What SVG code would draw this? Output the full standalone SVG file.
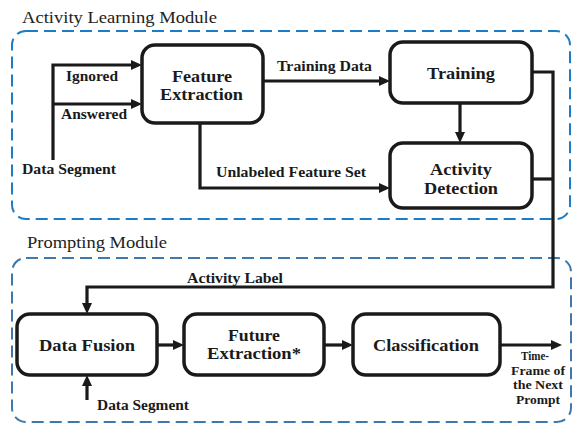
<svg xmlns="http://www.w3.org/2000/svg" width="574" height="424" viewBox="0 0 574 424">
<style>
.title{font-family:"Liberation Serif",serif;font-size:17px;fill:#222}
.node rect{fill:#fff;stroke:#1a1a1a;stroke-width:3.5}
.nl{font-family:"Liberation Serif",serif;font-weight:bold;font-size:17px;fill:#1a1a1a;text-anchor:middle}
.cl{font-family:"Liberation Serif",serif;font-weight:bold;font-size:14.5px;fill:#1a1a1a}
.tf{font-family:"Liberation Serif",serif;font-weight:bold;font-size:11.5px;fill:#1a1a1a;text-anchor:middle}
.conn path{fill:none;stroke:#1a1a1a;stroke-width:3.2}
.mod1{fill:none;stroke:#1d7cc6;stroke-width:2;stroke-dasharray:12 6}
.mod2{fill:none;stroke:#3f78ad;stroke-width:2;stroke-dasharray:12 6}
</style>
<defs>
<marker id="ah" markerUnits="userSpaceOnUse" markerWidth="12" markerHeight="10" refX="7" refY="5" orient="auto">
<path d="M0,0 L11,5 L0,10 z" fill="#1a1a1a"/>
</marker>
</defs>
<rect width="574" height="424" fill="#fff"/>
<g id="module-learning">
<rect class="mod1" x="12" y="31" width="558" height="188" rx="14"/>
<text class="title" x="22" y="23" textLength="195" lengthAdjust="spacingAndGlyphs">Activity Learning Module</text>
</g>
<g id="module-prompting">
<rect class="mod2" x="12" y="258" width="559" height="164" rx="14"/>
<text class="title" x="27" y="248" textLength="140" lengthAdjust="spacingAndGlyphs">Prompting Module</text>
</g>
<g class="conn" id="connectors">
<path d="M53,160 V65 H138" marker-end="url(#ah)"/>
<path d="M53,104 H138" marker-end="url(#ah)"/>
<path d="M263,81 H386" marker-end="url(#ah)"/>
<path d="M200,123 V188 H386" marker-end="url(#ah)"/>
<path d="M460,103 V139" marker-end="url(#ah)"/>
<path d="M532,72 H553 V287 H87 V310" marker-end="url(#ah)"/>
<path d="M532,179 H553"/>
<path d="M157,345 H180" marker-end="url(#ah)"/>
<path d="M324,345 H349" marker-end="url(#ah)"/>
<path d="M500,345 H558" marker-end="url(#ah)"/>
<path d="M87,400 V379" marker-end="url(#ah)"/>
<text class="cl" x="66" y="81" textLength="52" lengthAdjust="spacingAndGlyphs">Ignored</text>
<text class="cl" x="61" y="119" textLength="66" lengthAdjust="spacingAndGlyphs">Answered</text>
<text class="cl" x="22" y="174" textLength="94" lengthAdjust="spacingAndGlyphs">Data Segment</text>
<text class="cl" x="277" y="71" textLength="95" lengthAdjust="spacingAndGlyphs">Training Data</text>
<text class="cl" x="216" y="177" textLength="150" lengthAdjust="spacingAndGlyphs">Unlabeled Feature Set</text>
<text class="cl" x="187" y="283" textLength="96" lengthAdjust="spacingAndGlyphs">Activity Label</text>
<text class="cl" x="97" y="410" textLength="92" lengthAdjust="spacingAndGlyphs">Data Segment</text>
<text class="tf" x="535" y="360" textLength="28" lengthAdjust="spacingAndGlyphs">Time-</text>
<text class="tf" x="538" y="375" textLength="54" lengthAdjust="spacingAndGlyphs">Frame of</text>
<text class="tf" x="538" y="389" textLength="50" lengthAdjust="spacingAndGlyphs">the Next</text>
<text class="tf" x="538" y="404" textLength="44" lengthAdjust="spacingAndGlyphs">Prompt</text>
</g>
<g class="node" id="feature-extraction">
<rect x="142" y="45" width="121" height="78" rx="13"/>
<text class="nl" x="202" y="82" textLength="60" lengthAdjust="spacingAndGlyphs">Feature</text>
<text class="nl" x="201.5" y="100" textLength="83" lengthAdjust="spacingAndGlyphs">Extraction</text>
</g>
<g class="node" id="training">
<rect x="390" y="42" width="142" height="61" rx="13"/>
<text class="nl" x="461" y="79" textLength="68" lengthAdjust="spacingAndGlyphs">Training</text>
</g>
<g class="node" id="activity-detection">
<rect x="390" y="143" width="142" height="65" rx="13"/>
<text class="nl" x="461" y="175" textLength="62" lengthAdjust="spacingAndGlyphs">Activity</text>
<text class="nl" x="461" y="194" textLength="74" lengthAdjust="spacingAndGlyphs">Detection</text>
</g>
<g class="node" id="data-fusion">
<rect x="17" y="314" width="140" height="61" rx="13"/>
<text class="nl" x="87" y="351" textLength="96" lengthAdjust="spacingAndGlyphs">Data Fusion</text>
</g>
<g class="node" id="future-extraction">
<rect x="184" y="314" width="140" height="61" rx="13"/>
<text class="nl" x="254" y="341" textLength="52" lengthAdjust="spacingAndGlyphs">Future</text>
<text class="nl" x="254" y="359" textLength="94" lengthAdjust="spacingAndGlyphs">Extraction*</text>
</g>
<g class="node" id="classification">
<rect x="353" y="314" width="147" height="61" rx="13"/>
<text class="nl" x="426" y="351" textLength="106" lengthAdjust="spacingAndGlyphs">Classification</text>
</g>
</svg>
